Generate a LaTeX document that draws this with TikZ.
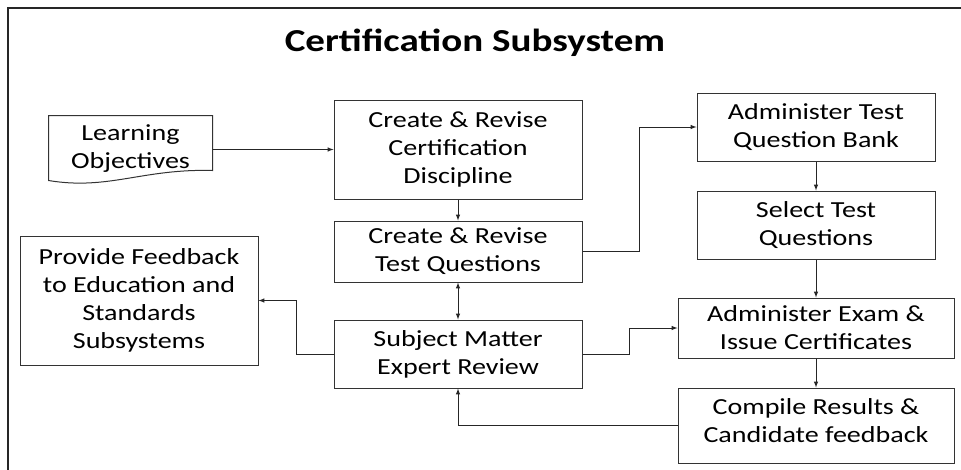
\documentclass[tikz,border=0pt]{standalone}
\usepackage{fontspec}
\setmainfont{Carlito}[FakeStretch=1.22]
\usepackage{tikz}
\usetikzlibrary{arrows}
\usetikzlibrary{positioning}
\usetikzlibrary{calc}

\begin{document}
\begin{tikzpicture}[x=1pt,y=-1pt,>=latex,
    box/.style={draw=black!80,line width=1pt,rectangle,align=center,inner sep=2pt,
      font=\fontsize{23}{28}\selectfont},
    link/.style={->,draw=black!85,line width=1pt}]
    \useasboundingbox (0,0) rectangle (961,469);
    \draw [line width=2pt,black!85] (8,8) rectangle (985,490);
    \node (title) at (475,43) {\fontsize{32}{38}\selectfont\bfseries Certification Subsystem};
    \node [box,draw=none,minimum width=163,minimum height=58] (lo) at (130.5,149) {Learning\\Objectives};
    \draw [black!80,line width=1pt] ($(lo.north west)+(0,-4)$) -- ($(lo.north east)+(0,-4)$) -- ($(lo.south east)+(0,-8)$)
      .. controls ($(lo.south east)+(-70,-10)$) and ($(lo.south west)+(60,12)$) .. ($(lo.south west)+(0,2)$) -- cycle;
    \node [box,minimum width=248,minimum height=99] (crcd) at (458,149.5) {Create \& Revise\\Certification\\Discipline};
    \node [box,minimum width=248,minimum height=61] (crtq) at (458,251.5) {Create \& Revise\\Test Questions};
    \node [box,minimum width=248,minimum height=68] (smer) at (458,354) {Subject Matter\\Expert Review};
    \node [box,minimum width=238,minimum height=129] (pf) at (139,300.5) {Provide Feedback\\to Education and\\Standards\\Subsystems};
    \node [box,minimum width=238,minimum height=68] (atqb) at (816,127) {Administer Test\\Question Bank};
    \node [box,minimum width=238,minimum height=68] (sq) at (816,225) {Select Test\\Questions};
    \node [box,minimum width=276,minimum height=60] (ae) at (816,328) {Administer Exam \&\\Issue Certificates};
    \node [box,minimum width=276,minimum height=75,text depth=10pt] (cr) at (816,425.5) {Compile Results \&\\Candidate feedback};
    \draw [link] (crcd.west -| lo.east) -- (crcd.west);
    \draw [link] (crcd) -- (crtq);
    \draw [link,<->] (crtq) -- (smer);
    \draw [link] (smer.west) -- ++(-37,0) |- (pf.east);
    \draw [link] (crtq.east) -- ++(57,0) |- (atqb.west);
    \draw [link] (atqb) -- (sq);
    \draw [link] (sq) -- (ae);
    \draw [link] (ae) -- (cr);
    \draw [link] (smer.east) -- ++(47,0) |- (ae.west);
    \draw [link] (cr.west) -| (smer.south);
  \end{tikzpicture}
\end{document}
